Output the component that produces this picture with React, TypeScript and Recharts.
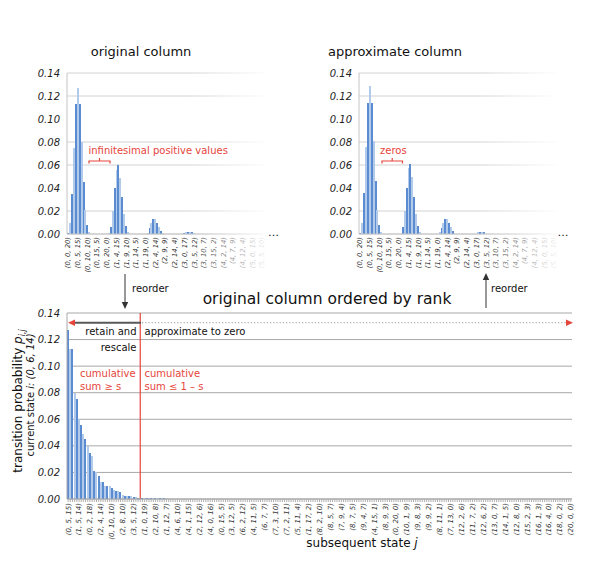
import { BarChart, Bar, Cell, XAxis, YAxis, CartesianGrid, ReferenceLine } from 'recharts';

document.body.style.margin = '0';

const FONT = 'DejaVu Sans';
const DARK = '#5b8bd0';
const LIGHT = '#b3cbea';
const RED = '#e5453b';

// y ticks shared by all three panels
const yTicks = [0, 0.02, 0.04, 0.06, 0.08, 0.1, 0.12, 0.14];

// every 5th state of the column (a + b + c = 20), top panels
const columnLabels = [
  '(0, 0, 20)', '(0, 5, 15)', '(0, 10, 10)', '(0, 15, 5)', '(0, 20, 0)',
  '(1, 4, 15)', '(1, 9, 10)', '(1, 14, 5)', '(1, 19, 0)', '(2, 4, 14)',
  '(2, 9, 9)', '(2, 14, 4)', '(3, 0, 17)', '(3, 5, 12)', '(3, 10, 7)',
  '(3, 15, 2)', '(4, 2, 14)', '(4, 7, 9)', '(4, 12, 4)', '(5, 0, 15)', '(5, 5, 10)',
];

// original column p(i,j), first 102 states
const originalValues = [
  0.001, 0.010, 0.035, 0.075, 0.113, 0.127, 0.113, 0.080, 0.045, 0.021,
  0.008, 0.002, 0.0004, 0.0003, 0.0003, 0.0003, 0.0003, 0.0003, 0.0003, 0.0003,
  0.0003, 0.001, 0.006, 0.020, 0.040, 0.056, 0.060, 0.049, 0.032, 0.017,
  0.007, 0.002, 0.0004, 0.0003, 0.0003, 0.0003, 0.0003, 0.0003, 0.0003, 0.0003,
  0.0003, 0.001, 0.005, 0.010, 0.013, 0.013, 0.010, 0.006, 0.003, 0.001,
  0.0003, 0.0003, 0.0003, 0.0003, 0.0003, 0.0003, 0.0003, 0.0003, 0.0003, 0.0003,
  0.001, 0.0015, 0.002, 0.002, 0.0015, 0.001, 0.0003, 0.0003, 0.0003, 0.0003,
  0.0003, 0.0003, 0.0003, 0.0003, 0.0003, 0.0003, 0.0003, 0.0003, 0.0003, 0.0003,
  0.0003, 0.0003, 0.0003, 0.0003, 0.0003, 0.0003, 0.0003, 0.0003, 0.0003, 0.0003,
  0.0003, 0.0003, 0.0003, 0.0003, 0.0003, 0.0003, 0.0003, 0.0003, 0.0003, 0.0003,
  0.0003, 0.0003,
];

// approximate column (small values set to zero, rest rescaled)
const approxValues = [
  0.001, 0.010, 0.036, 0.076, 0.114, 0.129, 0.114, 0.081, 0.046, 0.021,
  0.008, 0.002, 0, 0, 0, 0, 0, 0, 0, 0,
  0, 0, 0.006, 0.020, 0.040, 0.057, 0.061, 0.050, 0.032, 0.017,
  0.007, 0.002, 0, 0, 0, 0, 0, 0, 0, 0,
  0, 0.002, 0.005, 0.010, 0.013, 0.013, 0.010, 0.006, 0.003, 0,
  0, 0, 0, 0, 0, 0, 0, 0, 0, 0,
  0, 0.0015, 0.002, 0.002, 0.0015, 0, 0, 0, 0, 0,
  0, 0, 0, 0, 0, 0, 0, 0, 0, 0,
  0, 0, 0, 0, 0, 0, 0, 0, 0, 0,
  0, 0, 0, 0, 0, 0, 0, 0, 0, 0,
  0, 0,
];

// every 5th state of the column ordered by rank
const rankLabels = [
  '(0, 5, 15)', '(1, 5, 14)', '(0, 2, 18)', '(2, 4, 14)', '(0, 10, 10)', '(2, 8, 10)',
  '(3, 5, 12)', '(1, 0, 19)', '(2, 10, 8)', '(1, 12, 7)', '(4, 6, 10)', '(4, 1, 15)',
  '(2, 12, 6)', '(4, 0, 16)', '(0, 15, 5)', '(3, 12, 5)', '(6, 2, 12)', '(4, 11, 5)',
  '(6, 7, 7)', '(7, 3, 10)', '(7, 2, 11)', '(5, 11, 4)', '(1, 17, 2)', '(8, 2, 10)',
  '(8, 5, 7)', '(7, 9, 4)', '(8, 7, 5)', '(9, 4, 7)', '(4, 15, 1)', '(8, 9, 3)',
  '(0, 20, 0)', '(10, 1, 9)', '(9, 8, 3)', '(9, 9, 2)', '(8, 11, 1)', '(7, 13, 0)',
  '(12, 2, 6)', '(11, 7, 2)', '(12, 6, 2)', '(13, 0, 7)', '(14, 1, 5)', '(12, 8, 0)',
  '(15, 2, 3)', '(16, 1, 3)', '(16, 4, 0)', '(18, 0, 2)', '(20, 0, 0)',
];

// all 231 states, sorted by probability
const rankedValues = [
  0.127, 0.113, 0.113, 0.080, 0.075, 0.060, 0.056, 0.049, 0.045, 0.040,
  0.035, 0.032, 0.021, 0.020, 0.017, 0.013, 0.013, 0.010, 0.010, 0.010,
  0.008, 0.007, 0.006, 0.006, 0.005, 0.003, 0.002, 0.002, 0.002, 0.002,
  0.0015, 0.0015, 0.001, 0.001, 0.001, 0.001, 0.001, 0.0008, 0.0007, 0.0006,
  0.0005, 0.0005, 0.0004, 0.0004, 0.0004, 0.0003, 0.0003, 0.0003, 0.0003, 0.0003,
  0.0003, 0.0003, 0.0003, 0.0003, 0.0003, 0.0003, 0.0003, 0.0003, 0.0003, 0.0003,
  0.0002, 0.0002, 0.0002, 0.0002, 0.0002, 0.0002, 0.0002, 0.0002, 0.0002, 0.0002,
  0.0002, 0.0002, 0.0002, 0.0002, 0.0002, 0.0002, 0.0002, 0.0002, 0.0002, 0.0002,
  0.0002, 0.0002, 0.0002, 0.0002, 0.0002, 0.0002, 0.0002, 0.0002, 0.0002, 0.0002,
  0.0002, 0.0002, 0.0002, 0.0002, 0.0002, 0.0002, 0.0002, 0.0002, 0.0002, 0.0002,
  0.0002, 0.0002, 0.0002, 0.0002, 0.0002, 0.0002, 0.0002, 0.0002, 0.0002, 0.0002,
  0.0002, 0.0002, 0.0002, 0.0002, 0.0002, 0.0002, 0.0002, 0.0002, 0.0002, 0.0002,
  0.0002, 0.0002, 0.0002, 0.0002, 0.0002, 0.0002, 0.0002, 0.0002, 0.0002, 0.0002,
  0.0002, 0.0002, 0.0002, 0.0002, 0.0002, 0.0002, 0.0002, 0.0002, 0.0002, 0.0002,
  0.0002, 0.0002, 0.0002, 0.0002, 0.0002, 0.0002, 0.0002, 0.0002, 0.0002, 0.0002,
  0.0002, 0.0002, 0.0002, 0.0002, 0.0002, 0.0002, 0.0002, 0.0002, 0.0002, 0.0002,
  0.0002, 0.0002, 0.0002, 0.0002, 0.0002, 0.0002, 0.0002, 0.0002, 0.0002, 0.0002,
  0.0002, 0.0002, 0.0002, 0.0002, 0.0002, 0.0002, 0.0002, 0.0002, 0.0002, 0.0002,
  0.0002, 0.0002, 0.0002, 0.0002, 0.0002, 0.0002, 0.0002, 0.0002, 0.0002, 0.0002,
  0.0002, 0.0002, 0.0002, 0.0002, 0.0002, 0.0002, 0.0002, 0.0002, 0.0002, 0.0002,
  0.0002, 0.0002, 0.0002, 0.0002, 0.0002, 0.0002, 0.0002, 0.0002, 0.0002, 0.0002,
  0.0002, 0.0002, 0.0002, 0.0002, 0.0002, 0.0002, 0.0002, 0.0002, 0.0002, 0.0002,
  0.0002, 0.0002, 0.0002, 0.0002, 0.0002, 0.0002, 0.0002, 0.0002, 0.0002, 0.0002,
  0.0002,
];

const columnData = originalValues.map((v, i) => ({ i, original: v, approx: approxValues[i] }));
const rankData = rankedValues.map((v, i) => ({ i, p: v }));

function StateTick(props: any) {
  const { x, y, payload, labels, size } = props;
  const i = payload.value;
  const text = i % 5 === 0 ? labels[i / 5] : null;
  if (!text) return <g />;
  return (
    <text x={x} y={y} dy={size * 0.35} transform={`rotate(-90 ${x} ${y})`} textAnchor="end"
      fontSize={size} fontStyle="italic" fill="#333" fontFamily={FONT}>
      {text}
    </text>
  );
}

const yTickStyle = { fontSize: 10, fontStyle: 'italic', fill: '#222', fontFamily: FONT };

function ColumnChart({ left, dataKey, marginLeft, marginRight }: any) {
  return (
    <div style={{ position: 'absolute', left, top: 60 }}>
      <BarChart width={290} height={215} data={columnData} barCategoryGap={0} barGap={0}
        margin={{ top: 13, right: marginRight, left: marginLeft, bottom: 3 }}>
        <CartesianGrid vertical={false} stroke="#d2d2d2" />
        <XAxis dataKey="i" interval={0} tickLine={false} axisLine={{ stroke: '#c4c4c4' }} height={38}
          tickSize={2} tickMargin={1} tick={<StateTick labels={columnLabels} size={6.8} />} />
        <YAxis width={42} domain={[0, 0.14]} ticks={yTicks} tickLine={false} tickMargin={1}
          axisLine={{ stroke: '#c4c4c4' }} tick={yTickStyle} tickFormatter={(v: number) => v.toFixed(2)} />
        <Bar dataKey={dataKey} isAnimationActive={false} shapeRendering="crispEdges">
          {columnData.map((d) => (
            <Cell key={d.i} fill={d.i % 2 ? LIGHT : DARK} />
          ))}
        </Bar>
      </BarChart>
    </div>
  );
}

const fade = (left: number, width: number) => ({
  position: 'absolute' as const, left, top: 62, width, height: 213,
  background: 'linear-gradient(to right, rgba(255,255,255,0), rgba(255,255,255,0.95))',
});

export default function App() {
  const t = { fontFamily: FONT };
  return (
    <div style={{ position: 'relative', width: 598, height: 575, background: '#fff', overflow: 'hidden' }}>
      <ColumnChart left={0} dataKey="original" marginLeft={25} marginRight={25} />
      <ColumnChart left={300} dataKey="approx" marginLeft={17} marginRight={33} />
      <div style={fade(188, 80)} />
      <div style={fade(478, 80)} />

      <div style={{ position: 'absolute', left: 0, top: 290 }}>
        <BarChart width={598} height={285} data={rankData} barCategoryGap={0} barGap={0}
          margin={{ top: 23, right: 26, left: 25, bottom: 34 }}>
          <CartesianGrid vertical={false} stroke="#a8a8a8" />
          <XAxis dataKey="i" interval={0} height={42} tickSize={3} tickMargin={1}
            tickLine={{ stroke: '#b0b0b0' }} axisLine={{ stroke: '#a8a8a8' }}
            tick={<StateTick labels={rankLabels} size={7} />} />
          <YAxis width={42} domain={[0, 0.14]} ticks={yTicks} tickLine={false} tickMargin={1}
            axisLine={{ stroke: '#a8a8a8' }} tick={yTickStyle} tickFormatter={(v: number) => v.toFixed(2)} />
          <Bar dataKey="p" isAnimationActive={false} shapeRendering="crispEdges">
            {rankData.map((d) => (
              <Cell key={d.i} fill={d.i % 2 ? LIGHT : DARK} />
            ))}
          </Bar>
          <ReferenceLine x={33} stroke={RED} strokeWidth={1.2} />
        </BarChart>
      </div>

      <svg width={598} height={575} style={{ position: 'absolute', left: 0, top: 0, pointerEvents: 'none' }}>
        <g {...t} fill="#111">
          <text x={141} y={56} fontSize={13} textAnchor="middle">original column</text>
          <text x={395} y={56} fontSize={13} textAnchor="middle">approximate column</text>
          <text x={273.5} y={236} fontSize={11} textAnchor="middle">…</text>
          <text x={563} y={236} fontSize={11} textAnchor="middle">…</text>
          <text x={132} y={292} fontSize={10}>reorder</text>
          <text x={491} y={292} fontSize={10}>reorder</text>
          <text x={327} y={304} fontSize={15.5} textAnchor="middle">original column ordered by rank</text>
          <text x={136.5} y={335} fontSize={10} textAnchor="end">retain and</text>
          <text x={136.5} y={350.5} fontSize={10} textAnchor="end">rescale</text>
          <text x={144.5} y={335} fontSize={10}>approximate to zero</text>
          <text x={362} y={547} fontSize={12} textAnchor="middle">
            subsequent state <tspan fontStyle="italic">j</tspan>
          </text>
          <text transform="translate(22 401) rotate(-90)" fontSize={12} textAnchor="middle">
            transition probability <tspan fontStyle="italic">p</tspan>
            <tspan fontStyle="italic" fontSize={8} dy={3}>i,j</tspan>
          </text>
          <text transform="translate(34 395) rotate(-90)" fontSize={10} textAnchor="middle">
            current state <tspan fontStyle="italic">i: (0, 6, 14)</tspan>
          </text>
        </g>
        <g {...t} fill={RED} fontSize={10}>
          <text x={88.5} y={153.5}>infinitesimal positive values</text>
          <text x={380} y={153.5}>zeros</text>
          <text x={80} y={376.5}>cumulative</text>
          <text x={80} y={390}>sum ≥ s</text>
          <text x={144.5} y={376.5}>cumulative</text>
          <text x={144.5} y={390}>sum ≤ 1 – s</text>
        </g>
        <g stroke={RED} strokeWidth={1.2} fill="none">
          <path d="M89 163.5 V161 H110 V163.5 M99.5 161 V158" />
          <path d="M382 163.5 V161 H402.5 V163.5 M392.2 161 V158" />
        </g>
        {/* reorder arrows */}
        <g stroke="#333" strokeWidth={1}>
          <line x1={125} y1={274} x2={125} y2={303} />
          <line x1={486} y1={308} x2={486} y2={279} />
        </g>
        <g fill="#333">
          <polygon points="121.8,302 128.2,302 125,309" />
          <polygon points="482.8,280 489.2,280 486,273" />
        </g>
        {/* retain / approximate arrows */}
        <line x1={141} y1={322.7} x2={74} y2={322.7} stroke="#595959" strokeWidth={2} />
        <line x1={142} y1={322.7} x2={566} y2={322.7} stroke="#9a9a9a" strokeWidth={1} strokeDasharray="1.2 2" />
        <g fill={RED}>
          <polygon points="68,322.7 75,319.4 75,326" />
          <polygon points="573,322.7 566,319.4 566,326" />
        </g>
      </svg>
    </div>
  );
}
